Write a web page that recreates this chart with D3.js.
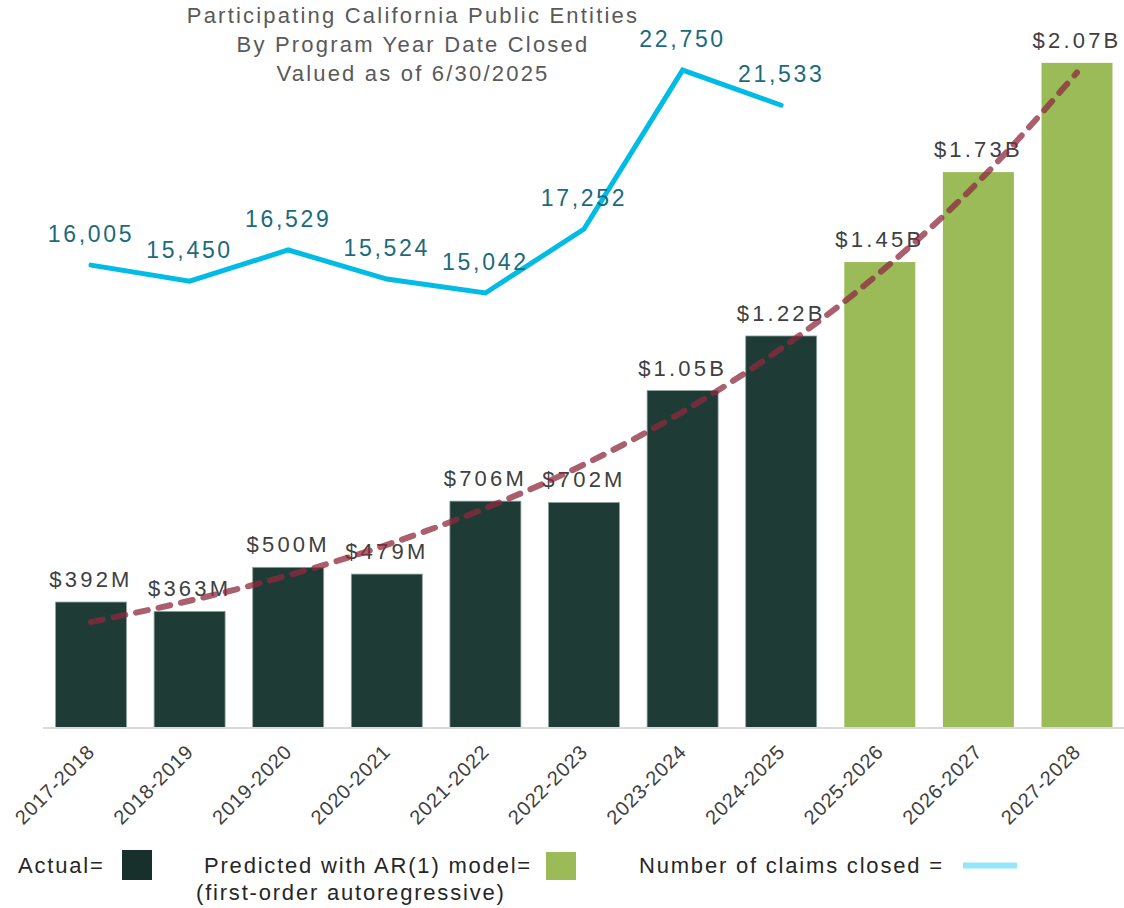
<!DOCTYPE html>
<html><head><meta charset="utf-8">
<script src="https://cdn.jsdelivr.net/npm/d3@7"></script>
<style>
body{margin:0;background:#fff;}
svg{display:block;font-family:"Liberation Sans",Arial,sans-serif;}
</style></head>
<body><svg id="c" width="1124" height="908"></svg>
<script>
const categories = ["2017-2018","2018-2019","2019-2020","2020-2021","2021-2022","2022-2023","2023-2024","2024-2025","2025-2026","2026-2027","2027-2028"];
const amountsM = [392,363,500,479,706,702,1050,1220,1450,1730,2070];
const amountLabels = ["$392M","$363M","$500M","$479M","$706M","$702M","$1.05B","$1.22B","$1.45B","$1.73B","$2.07B"];
const kind = ["actual","actual","actual","actual","actual","actual","actual","actual","predicted","predicted","predicted"];
const claimsClosed = [16005,15450,16529,15524,15042,17252,22750,21533];
const trendM = [330,396,475,570,684,820,984,1181,1417,1700,2040];
const titleLines = ["Participating California Public Entities","By Program Year Date Closed","Valued as of 6/30/2025"];

const svg = d3.select("#c");
const base = 728;
const x = d3.scaleBand().domain(categories).range([41.7,1126.3]).paddingInner(0.28).paddingOuter(0.14);
const y = d3.scaleLinear().domain([0,2250]).range([base,5]);
const y2 = d3.scaleLinear().domain([0,25000]).range([base,5]);
const cx = d => x(d) + x.bandwidth()/2;
const colors = {actual:"#1E3B35", predicted:"#9BBB59"};

// bars
svg.append("g").selectAll("rect").data(categories).join("rect")
  .attr("x", d=>x(d)).attr("width", x.bandwidth())
  .attr("y", (d,i)=>y(amountsM[i])).attr("height",(d,i)=>base-y(amountsM[i]))
  .attr("fill",(d,i)=>colors[kind[i]])
  .attr("stroke",(d,i)=>kind[i]==="actual"?"#8fa39e":"none").attr("stroke-width",0.8);

// axis
const xAxis = d3.axisBottom(x).tickSize(0).tickSizeOuter(0);
const ax = svg.append("g").attr("transform",`translate(0,${base})`).call(xAxis);
ax.select(".domain").attr("stroke","#d9d9d9").attr("stroke-width",2).attr("d","M43,0H1124");
ax.selectAll(".tick text")
  .attr("font-size",20).attr("fill","#404040").attr("font-family","Liberation Sans, Arial, sans-serif")
  .attr("text-anchor","end").attr("dy",null).attr("y",0)
  .attr("transform","translate(5,25) rotate(-45)")
  .style("letter-spacing","0.8px");

// bar labels
svg.append("g").selectAll("text").data(categories).join("text")
  .attr("x", d=>cx(d)).attr("y",(d,i)=>y(amountsM[i])-15)
  .attr("text-anchor","middle").attr("font-size",22).attr("fill","#404040")
  .style("letter-spacing","3.2px")
  .text((d,i)=>amountLabels[i]);

// claims line
const lc = categories.slice(0, claimsClosed.length);
const line = d3.line().x(d=>cx(d)).y((d,i)=>y2(claimsClosed[i]));
svg.append("path").datum(lc).attr("d",line)
  .attr("fill","none").attr("stroke","#00BCE4").attr("stroke-width",5)
  .attr("stroke-linecap","round").attr("stroke-linejoin","miter");

// trend line
const tl = d3.line().x(d=>cx(d)).y((d,i)=>y(trendM[i])).curve(d3.curveMonotoneX);
svg.append("path").datum(categories).attr("d",tl)
  .attr("fill","none").attr("stroke","#8E2A3E").attr("stroke-opacity",0.75)
  .attr("stroke-width",6).attr("stroke-dasharray","12 11").attr("stroke-linecap","round");

// claims labels
svg.append("g").selectAll("text").data(lc).join("text")
  .attr("x", d=>cx(d)).attr("y",(d,i)=>y2(claimsClosed[i])-23)
  .attr("text-anchor","middle").attr("font-size",23).attr("fill","#1B6A7E")
  .style("letter-spacing","2.7px")
  .text((d,i)=>d3.format(",")(claimsClosed[i]));

// title
svg.append("g").selectAll("text").data(titleLines).join("text")
  .attr("x",413).attr("y",(d,i)=>23+i*29)
  .attr("text-anchor","middle").attr("font-size",22).attr("fill","#595959")
  .style("letter-spacing","2.2px")
  .text(d=>d);

// legend
const lg = svg.append("g").attr("font-size",22).attr("fill","#262626").style("letter-spacing","1.8px");
lg.append("text").attr("x",18).attr("y",873).text("Actual=");
lg.append("rect").attr("x",122).attr("y",850).attr("width",30).attr("height",30).attr("fill","#17302B");
lg.append("text").attr("x",204).attr("y",873).text("Predicted with AR(1) model=");
lg.append("text").attr("x",196).attr("y",900).text("(first-order autoregressive)");
lg.append("rect").attr("x",546).attr("y",852).attr("width",30).attr("height",28).attr("fill","#9BBB59");
lg.append("text").attr("x",639).attr("y",873).text("Number of claims closed =");
lg.append("line").attr("x1",963).attr("x2",1017).attr("y1",865.5).attr("y2",865.5)
  .attr("stroke","#95E6FA").attr("stroke-width",6);
</script></body></html>
